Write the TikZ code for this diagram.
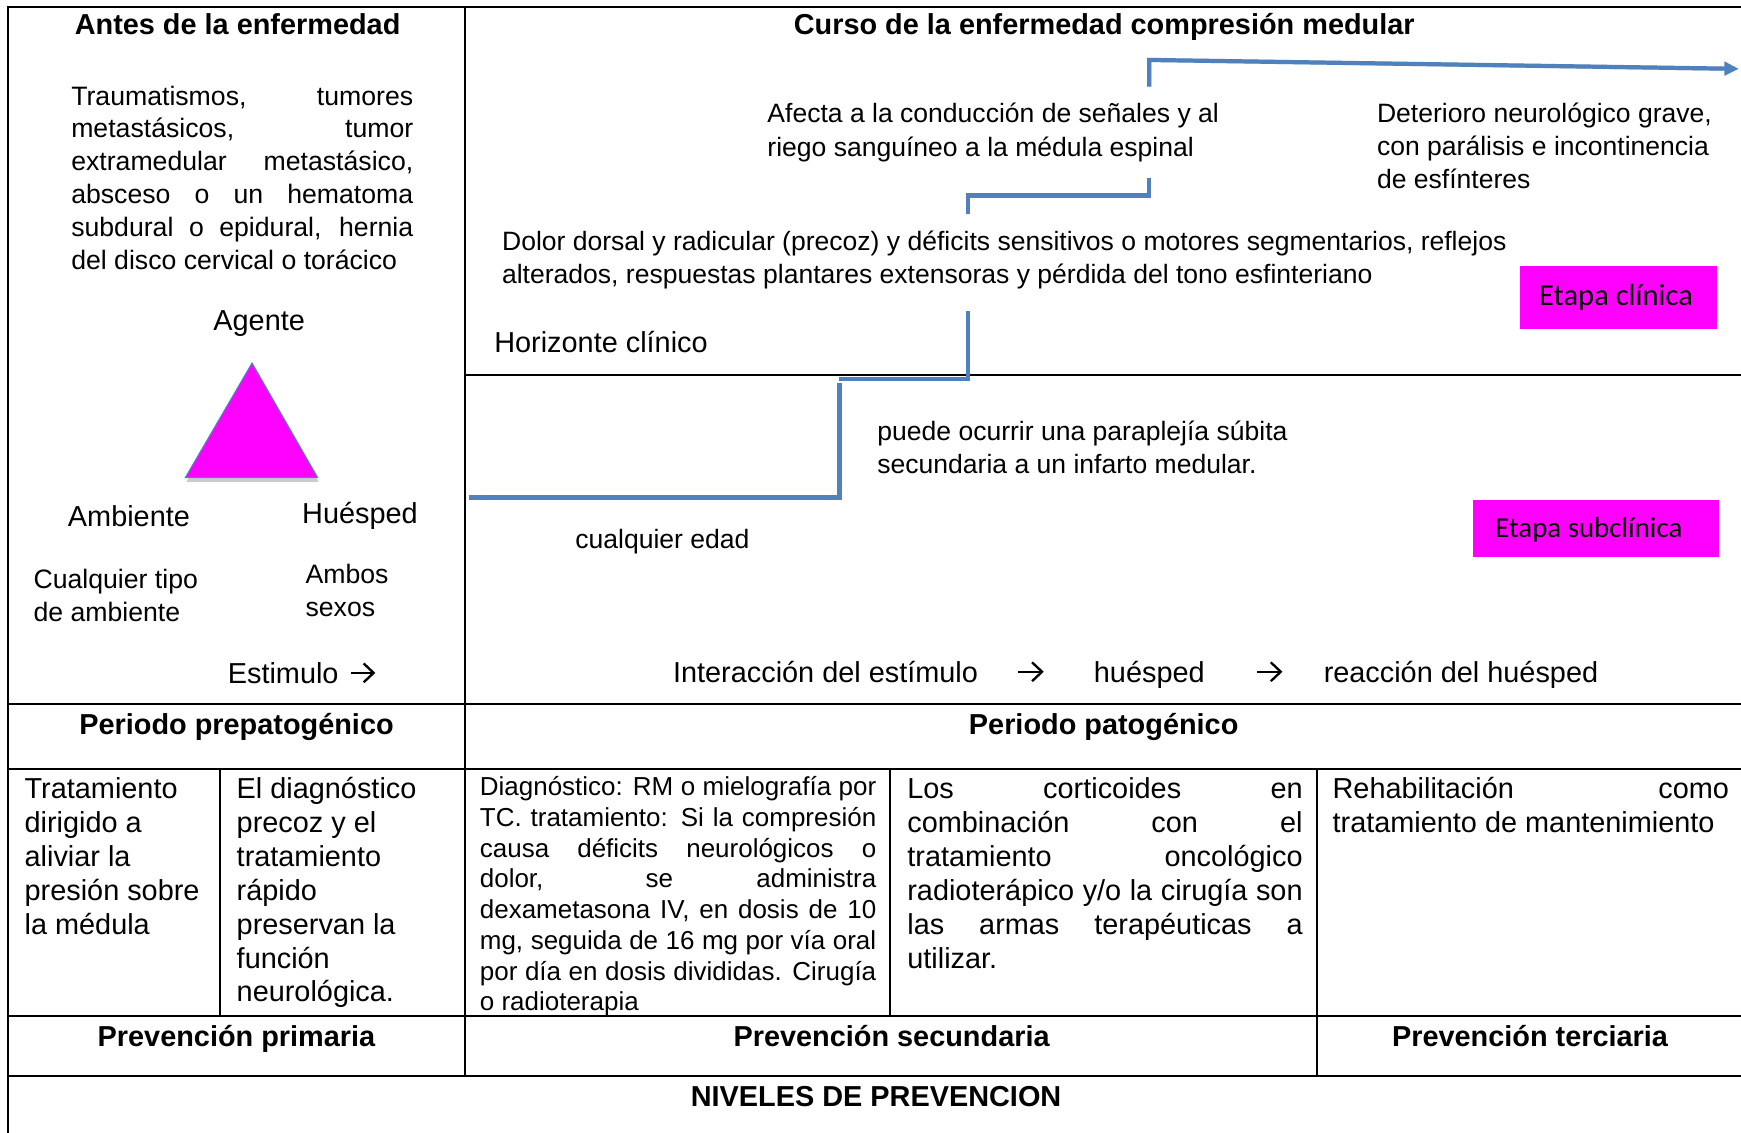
\documentclass[tikz,border=0pt]{standalone}
\usepackage{fontspec}
\setmainfont{Liberation Sans}
\newfontfamily\calfont{Carlito}
\usetikzlibrary{arrows.meta}
\definecolor{stairblue}{HTML}{4F81BD}
\definecolor{magbox}{HTML}{FF00FF}
\tikzset{
  gridline/.style={line width=1.8pt, black},
  hd/.style={inner sep=0pt, font=\fontsize{26}{31}\selectfont\bfseries, anchor=base},
  lg/.style={inner sep=0pt, font=\fontsize{26}{31}\selectfont, anchor=base west},
  md/.style={inner sep=0pt, font=\fontsize{24}{29}\selectfont, anchor=base west},
  sm/.style={inner sep=0pt, font=\fontsize{23.9}{28}\selectfont, anchor=base west},
  dx/.style={inner sep=0pt, font=\fontsize{23.4}{28}\selectfont, anchor=base west},
  etapa/.style={fill=magbox, inner sep=0pt},
  etapatxt/.style={inner sep=0pt, anchor=center},
  stair/.style={line width=3.8pt, stairblue},
  stairshadow/.style={line width=3.8pt, black, opacity=0.18},
  chev/.style={line width=2.1pt, black, line join=miter},
}
\newcommand{\chevarrow}[2]{%
  \draw[chev] (#1) -- (#2);
  \draw[chev] ([shift={(-8.5,-8.5)}]#2) -- ([xshift=0.5pt]#2) -- ([shift={(-8.5,8.5)}]#2);
}
\begin{document}
\begin{tikzpicture}[x=1pt,y=-1pt]
\useasboundingbox (0,0) rectangle (1568,1020);
\fill[white] (0,0) rectangle (1568,1020);

% ---- table grid ----
\draw[gridline] (7,1020) -- (7,6) -- (1568,6);
\draw[gridline] (419,6) -- (419,969);
\draw[gridline] (419,338) -- (1568,338);
\draw[gridline] (7,634) -- (1568,634);
\draw[gridline] (7,693) -- (1568,693);
\draw[gridline] (198,693) -- (198,915);
\draw[gridline] (802,693) -- (802,915);
\draw[gridline] (1186,693) -- (1186,969);
\draw[gridline] (7,915) -- (1568,915);
\draw[gridline] (7,969) -- (1568,969);

% ---- left panel ----
\node[hd] (antes) at (214,31.4) {Antes de la enfermedad};
\node[md] (p1) at (64,94.6) {\makebox[308pt][s]{Traumatismos, tumores}};
\node[md] (p2) at (64,124) {\makebox[308pt][s]{metastásicos, tumor}};
\node[md] (p3) at (64,153.6) {\makebox[308pt][s]{extramedular metastásico,}};
\node[md] (p4) at (64,183.4) {\makebox[308pt][s]{absceso o un hematoma}};
\node[md] (p5) at (64,213) {\makebox[308pt][s]{subdural o epidural, hernia}};
\node[md] (p6) at (64,242.6) {del disco cervical o torácico};
\node[lg] (agente) at (192,297.4) {Agente};

\coordinate (ta) at (227,327);
\coordinate (tl) at (167,430);
\coordinate (tr) at (286,430);
\fill[black, opacity=0.2] ([shift={(1,4)}]ta) -- ([shift={(1,4)}]tl) -- ([shift={(1,4)}]tr) -- cycle;
\draw[fill=magbox, draw=stairblue, line width=1pt] (ta) -- (tl) -- (tr) -- cycle;

\node[lg] (ambiente) at (61,474.4) {Ambiente};
\node[lg] (huesped) at (272,471.4) {Huésped};
\node[md] (cual1) at (30,529.6) {Cualquier tipo};
\node[md] (cual2) at (30,559.6) {de ambiente};
\node[md] (ambos1) at (275,525.6) {Ambos};
\node[md] (ambos2) at (275,555) {sexos};
\node[lg] (estim) at (205,615.4) {Estimulo};
\coordinate (ea1) at (316,606);
\coordinate (ea2) at (336,606);
\chevarrow{ea1}{ea2}

% ---- right panel ----
\node[hd] (curso) at (994.5,31.4) {Curso de la enfermedad compresión medular};
\node[sm] (af1) at (691,110.5) {Afecta a la conducción de señales y al};
\node[sm] (af2) at (691,140.5) {riego sanguíneo a la médula espinal};
\node[sm] (de1) at (1240,110.5) {Deterioro neurológico grave,};
\node[sm] (de2) at (1240,140) {con parálisis e incontinencia};
\node[sm] (de3) at (1240,169.5) {de esfínteres};
\node[sm] (do1) at (452,225.5) {Dolor dorsal y radicular (precoz) y déficits sensitivos o motores segmentarios, reflejos};
\node[sm] (do2) at (452,255.5) {alterados, respuestas plantares extensoras y pérdida del tono esfinteriano};
\node[lg] (horiz) at (445,317.4) {Horizonte clínico};
\node[etapa, minimum width=177pt, minimum height=56pt] (eclin) at (1457.5,268) {};
\node[etapatxt, font=\fontsize{27.5}{30}\selectfont\calfont] (eclint) at (1455.5,268) {Etapa clínica};
\node[sm] (pu1) at (790,396.5) {puede ocurrir una paraplejía súbita};
\node[sm] (pu2) at (790,426.5) {secundaria a un infarto medular.};
\node[sm] (edad) at (518,494) {cualquier edad};
\node[etapa, minimum width=221pt, minimum height=52pt] (esub) at (1437.5,476) {};
\node[etapatxt, font=\fontsize{26}{28}\selectfont\calfont] (esubt) at (1431,477) {Etapa subclínica};
\node[lg] (inter) at (606,614.4) {Interacción del estímulo};
\coordinate (ia1) at (917,605);
\coordinate (ia2) at (938,605);
\chevarrow{ia1}{ia2}
\node[lg] (hues) at (985,614.4) {huésped};
\coordinate (ib1) at (1132,605);
\coordinate (ib2) at (1153,605);
\chevarrow{ib1}{ib2}
\node[lg] (reac) at (1192,614.4) {reacción del huésped};

% ---- blue staircase ----
\coordinate (s1) at (422,448);
\coordinate (s2) at (756,448);
\coordinate (s3) at (756,345);
\coordinate (s4) at (756,341);
\coordinate (s5) at (872,341);
\coordinate (s6) at (872,280);
\coordinate (s7) at (872,193);
\coordinate (s8) at (872,176);
\coordinate (s9) at (1035,176);
\coordinate (s10) at (1035,160);
\coordinate (s11) at (1035,78);
\coordinate (s12) at (1035,54);
\coordinate (s13) at (1566,62);
\begin{scope}[shift={(2,4)}]
\draw[stairshadow] (s1) -- (s2) -- (s3);
\draw[stairshadow] (s4) -- (s5) -- (s6);
\draw[stairshadow] (s7) -- (s8) -- (s9) -- (s10);
\draw[stairshadow] (s11) -- (s12) -- ([xshift=-14pt]s13);
\end{scope}
\draw[stair] (s1) -- (s2) -- (s3);
\draw[stair] (s4) -- (s5) -- (s6);
\draw[stair] (s7) -- (s8) -- (s9) -- (s10);
\draw[stair, -{Triangle[length=13pt,width=12pt]}] (s11) -- (s12) -- (s13);

% ---- periods ----
\node[hd] (prepat) at (213,661.4) {Periodo prepatogénico};
\node[hd] (pat) at (994,661.4) {Periodo patogénico};

% cell 1
\node[lg] (c1a) at (22,719.4) {Tratamiento};
\node[lg] (c1b) at (22,749.9) {dirigido a};
\node[lg] (c1c) at (22,780.4) {aliviar la};
\node[lg] (c1d) at (22,810.9) {presión sobre};
\node[lg] (c1e) at (22,841.4) {la médula};
% cell 2
\node[lg] (c2a) at (213,719.4) {El diagnóstico};
\node[lg] (c2b) at (213,749.9) {precoz y el};
\node[lg] (c2c) at (213,780.4) {tratamiento};
\node[lg] (c2d) at (213,810.9) {rápido};
\node[lg] (c2e) at (213,841.4) {preservan la};
\node[lg] (c2f) at (213,871.9) {función};
\node[lg] (c2g) at (213,902.4) {neurológica.};
% cell 3
\node[dx] (c3a) at (432,716.5) {\makebox[357pt][s]{Diagnóstico: RM o mielografía por}};
\node[dx] (c3b) at (432,744.2) {\makebox[357pt][s]{TC. tratamiento: Si la compresión}};
\node[dx] (c3c) at (432,771.9) {\makebox[357pt][s]{causa déficits neurológicos o}};
\node[dx] (c3d) at (432,799.6) {\makebox[357pt][s]{dolor, se administra}};
\node[dx] (c3e) at (432,827.3) {\makebox[357pt][s]{dexametasona IV, en dosis de 10}};
\node[dx] (c3f) at (432,855) {\makebox[357pt][s]{mg, seguida de 16 mg por vía oral}};
\node[dx] (c3g) at (432,882.7) {\makebox[357pt][s]{por día en dosis divididas. Cirugía}};
\node[dx] (c3h) at (432,910.4) {o radioterapia};
% cell 4
\node[lg] (c4a) at (817,719.4) {\makebox[356pt][s]{Los corticoides en}};
\node[lg] (c4b) at (817,749.9) {\makebox[356pt][s]{combinación con el}};
\node[lg] (c4c) at (817,780.4) {\makebox[356pt][s]{tratamiento oncológico}};
\node[lg] (c4d) at (817,810.9) {\makebox[356pt][s]{radioterápico y/o la cirugía son}};
\node[lg] (c4e) at (817,841.4) {\makebox[356pt][s]{las armas terapéuticas a}};
\node[lg] (c4f) at (817,871.9) {utilizar.};
% cell 5
\node[lg] (c5a) at (1200,719.4) {\makebox[357pt][s]{Rehabilitación como}};
\node[lg] (c5b) at (1200,749.9) {tratamiento de mantenimiento};

% ---- prevention ----
\node[hd] (prim) at (213,942.4) {Prevención primaria};
\node[hd] (sec) at (803,942.4) {Prevención secundaria};
\node[hd] (ter) at (1378,942.4) {Prevención terciaria};
\node[hd] (niv) at (789,996.4) {NIVELES DE PREVENCION};
\end{tikzpicture}
\end{document}
